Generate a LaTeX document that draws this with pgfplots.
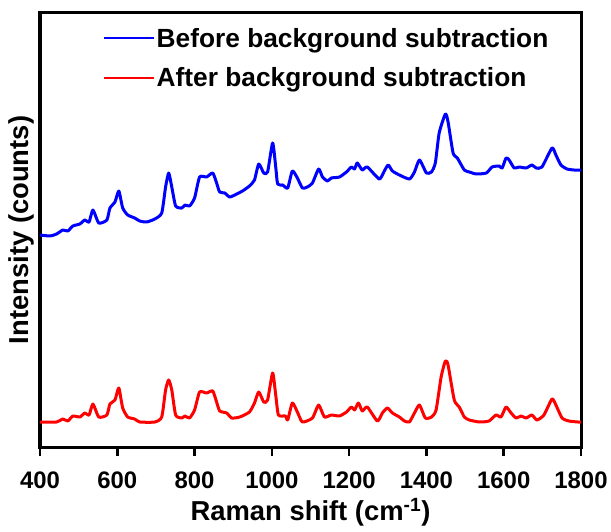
\documentclass[border=0pt]{standalone}
\usepackage{fontspec}
\setmainfont{Liberation Sans}
\usepackage{pgfplots}
\pgfplotsset{compat=1.18}
\usetikzlibrary{calc}

\begin{document}
\begin{tikzpicture}
\begin{axis}[
    name=ax,
    at={(0,0)}, anchor=south west,
    scale only axis,
    width=541bp, height=434bp,
    xmin=400, xmax=1800,
    ymin=4, ymax=438,
    xtick={400,600,...,1800},
    ytick=\empty,
    xtick pos=bottom,
    tick align=outside,
    major tick length=9bp,
    every tick/.style={black, line width=2.5bp},
    axis line style={line width=3bp},
    /pgf/number format/assume math mode=true,
    /pgf/number format/set thousands separator={},
    ticklabel style={font=\fontsize{24}{24}\selectfont\bfseries},
    xticklabel style={yshift=-12bp},
    xlabel={Raman shift (cm\textsuperscript{-1})},
    ylabel={Intensity (counts)},
    label style={font=\fontsize{27.5}{27.5}\selectfont\bfseries},
    xlabel style={yshift=-3bp},
    ylabel style={yshift=-7bp},
    legend style={draw=none, fill=none, at={(0.11,0.975)}, anchor=north west,
        font=\fontsize{26.4}{26.4}\selectfont\bfseries, row sep=15bp,
        nodes={inner sep=2bp}, cells={anchor=west}},
    legend image code/.code={%
        \draw[mark repeat=2,mark phase=2,#1] plot coordinates {(0bp,0bp) (25bp,0bp) (50bp,0bp)};},
    legend image post style={line width=2bp},
]

\addplot[color=blue, line width=3bp, line join=round, smooth, tension=0.35] coordinates {
(400,216)(426,215)(443,217)(459,221)(472,220)(485,225)(503,227)(516,231)(527,229)(537,241)(552,228)(573,231)(581,243)(594,249)(604,260)(614,243)(627,236)(645,233)(658,230)(676,229)(697,232)(715,238)(725,264)(733,278)(741,264)(751,245)(767,243)(775,246)(787,245)(800,253)(813,274)(831,274)(847,278)(857,268)(865,259)(878,258)(891,254)(909,257)(924,260)(942,265)(955,271)(966,287)(979,278)(989,279)(1002,308)(1010,284)(1015,267)(1028,266)(1041,263)(1053,280)(1066,273)(1079,263)(1092,264)(1105,268)(1121,282)(1131,274)(1144,270)(1154,273)(1175,274)(1193,279)(1206,284)(1214,282)(1221,288)(1234,281)(1247,284)(1278,272)(1291,280)(1301,286)(1312,280)(1330,276)(1356,272)(1369,279)(1382,291)(1400,278)(1413,279)(1423,288)(1433,318)(1449,337)(1456,329)(1469,298)(1480,293)(1498,281)(1511,279)(1529,277)(1555,278)(1570,284)(1588,285)(1596,283)(1606,293)(1614,291)(1627,283)(1640,284)(1658,283)(1673,286)(1684,283)(1699,284)(1725,303)(1735,296)(1748,286)(1764,282)(1782,281)(1800,281)
};
\addlegendentry{Before background subtraction}

\addplot[color=red, line width=3bp, line join=round, smooth, tension=0.35] coordinates {
(400,29)(443,29)(459,32)(472,30)(485,35)(503,34)(516,38)(527,36)(537,47)(552,34)(573,36)(581,47)(594,51)(604,63)(614,43)(627,34)(645,32)(658,29)(697,29)(715,34)(725,61)(733,71)(741,61)(751,36)(767,33)(775,35)(787,33)(800,41)(813,59)(831,58)(847,60)(857,49)(865,40)(883,38)(896,33)(917,34)(942,39)(955,48)(966,59)(979,49)(989,51)(1002,78)(1010,56)(1017,36)(1035,35)(1041,31)(1053,48)(1066,39)(1079,29)(1105,33)(1121,46)(1136,34)(1154,36)(1175,35)(1193,39)(1206,44)(1214,41)(1224,48)(1234,40)(1247,44)(1273,30)(1286,38)(1299,43)(1312,38)(1330,34)(1343,30)(1356,29)(1369,38)(1382,46)(1397,33)(1413,34)(1425,41)(1438,74)(1449,90)(1456,86)(1472,51)(1485,44)(1498,34)(1511,31)(1537,29)(1562,30)(1580,36)(1593,34)(1606,44)(1619,38)(1632,33)(1645,35)(1658,33)(1673,36)(1686,31)(1704,36)(1725,52)(1735,46)(1751,33)(1769,30)(1792,29)(1800,29)
};
\addlegendentry{After background subtraction}

\end{axis}
\pgfresetboundingbox
\path[use as bounding box] ($(ax.south west)+(-40bp,-85bp)$) rectangle ($(ax.north east)+(30bp,13bp)$);
\end{tikzpicture}
\end{document}
